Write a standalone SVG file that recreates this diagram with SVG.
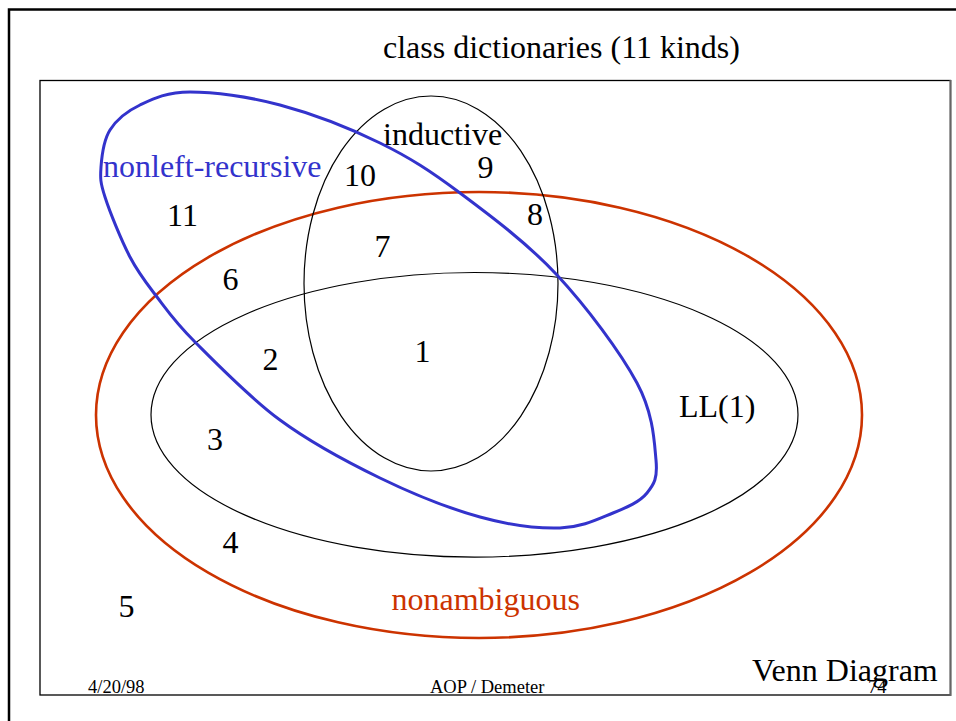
<svg xmlns="http://www.w3.org/2000/svg" width="956" height="721" viewBox="0 0 956 721">
<style>
text{font-family:"Liberation Serif","Times New Roman",serif;fill:#000}
.big{font-size:32px}
.num{font-size:32px;text-anchor:middle}
.foot{font-size:18.5px}
.thin{fill:none;stroke:#000;stroke-width:1.2}
.red{fill:none;stroke:#cc3300;stroke-width:2.6}
.blue{fill:none;stroke:#3333cc;stroke-width:3}
</style>
<rect x="0" y="0" width="956" height="721" fill="#fff"/>
<g id="frame">
<rect x="9" y="9.5" width="960" height="730" fill="none" stroke="#000" stroke-width="2.5"/>
<rect x="40" y="80.5" width="910.5" height="614.5" fill="none" stroke="#000" stroke-width="1.3"/>
<line x1="950.5" y1="80" x2="950.5" y2="696" stroke="#666" stroke-width="2"/>
</g>
<text id="title" class="big" x="383" y="58">class dictionaries (11 kinds)</text>
<g id="nonambiguous">
<ellipse class="red" cx="479" cy="415" rx="383" ry="223"/>
<text class="big" x="391.5" y="610" style="fill:#cc3300">nonambiguous</text>
</g>
<g id="ll1">
<ellipse class="thin" cx="474.5" cy="414.8" rx="323.5" ry="142.3"/>
<text class="big" x="679" y="417">LL(1)</text>
</g>
<g id="inductive">
<ellipse class="thin" cx="431" cy="283.5" rx="127" ry="187.5"/>
<text class="big" x="383" y="145">inductive</text>
</g>
<g id="nonleft-recursive">
<path class="blue" d="M190,92 C213.3,92 248.3,96.5 280,105 C311.7,113.5 350,128.3 380,143 C410,157.7 430.5,171 460,193 C489.5,215 527.5,243.3 557,275 C586.5,306.7 620.5,352.2 637,383 C653.5,413.8 654.3,441.7 656,460 C657.7,478.3 654.2,484.2 647,493 C639.8,501.8 627.5,507.2 613,513 C598.5,518.8 582.2,527.3 560,528 C537.8,528.7 510,525.3 480,517 C450,508.7 413.3,494.2 380,478 C346.7,461.8 310.8,442.7 280,420 C249.2,397.3 215.5,362.5 195,342 C174.5,321.5 167.8,311.2 157,297 C146.2,282.8 138.7,273.7 130,257 C121.3,240.3 109.8,212 105,197 C100.2,182 100.2,178.2 101,167 C101.8,155.8 103.5,140.3 110,130 C116.5,119.7 126.7,111.3 140,105 C153.3,98.7 166.7,92 190,92 Z"/>
<text class="big" x="103" y="177" style="fill:#3333cc">nonleft-recursive</text>
</g>
<g id="regions">
<text class="num" x="422.5" y="362">1</text>
<text class="num" x="270.5" y="370">2</text>
<text class="num" x="215" y="450">3</text>
<text class="num" x="230.5" y="553">4</text>
<text class="num" x="126.5" y="617">5</text>
<text class="num" x="230.5" y="290">6</text>
<text class="num" x="382.5" y="257">7</text>
<text class="num" x="535" y="225">8</text>
<text class="num" x="485.5" y="178">9</text>
<text class="num" x="360" y="186">10</text>
<text class="num" x="182.5" y="226">11</text>
</g>
<g id="footer">
<text class="big" x="752" y="681">Venn Diagram</text>
<text class="foot" x="88" y="693">4/20/98</text>
<text class="foot" x="430" y="693">AOP / Demeter</text>
<text class="foot" x="868" y="693">74</text>
</g>
</svg>
